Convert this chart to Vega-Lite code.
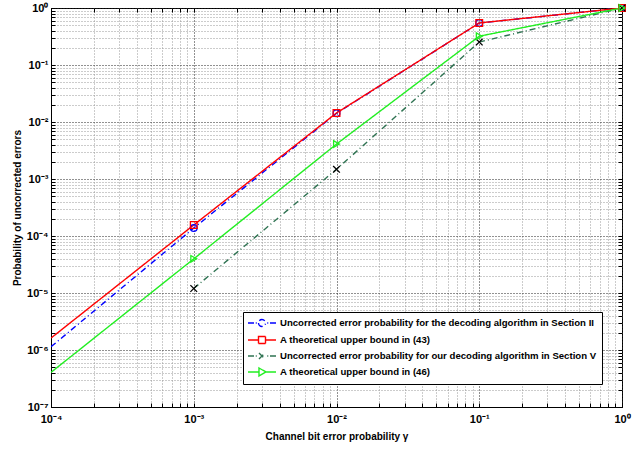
{
  "$schema": "https://vega.github.io/schema/vega-lite/v6.json",
  "width": 571,
  "height": 399,
  "autosize": {"type": "none"},
  "padding": {"left": 51, "top": 8, "right": 19, "bottom": 44},
  "background": "white",
  "config": {
    "view": {"stroke": "black", "strokeWidth": 1},
    "font": "Liberation Sans",
    "axis": {
      "labelFont": "Liberation Sans", "labelFontWeight": "bold", "labelFontSize": 11, "labelColor": "black",
      "titleFont": "Liberation Sans", "titleFontWeight": "bold", "titleFontSize": 10, "titleColor": "black",
      "labelFlush": false, "labelOverlap": false
    }
  },
  "data": {
    "values": [
      {"s": "Uncorrected error probability for the decoding algorithm in Section II", "x": 0.0001, "y": 1.14e-6},
      {"s": "Uncorrected error probability for the decoding algorithm in Section II", "x": 0.001, "y": 1.38e-4},
      {"s": "Uncorrected error probability for the decoding algorithm in Section II", "x": 0.01, "y": 1.42e-2},
      {"s": "Uncorrected error probability for the decoding algorithm in Section II", "x": 0.1, "y": 0.545},
      {"s": "Uncorrected error probability for the decoding algorithm in Section II", "x": 1, "y": 1},
      {"s": "A theoretical upper bound in (43)", "x": 0.0001, "y": 1.62e-6},
      {"s": "A theoretical upper bound in (43)", "x": 0.001, "y": 1.56e-4},
      {"s": "A theoretical upper bound in (43)", "x": 0.01, "y": 1.44e-2},
      {"s": "A theoretical upper bound in (43)", "x": 0.1, "y": 0.546},
      {"s": "A theoretical upper bound in (43)", "x": 1, "y": 1},
      {"s": "Uncorrected error probability for our decoding algorithm in Section V", "x": 0.001, "y": 1.2e-5},
      {"s": "Uncorrected error probability for our decoding algorithm in Section V", "x": 0.01, "y": 1.48e-3},
      {"s": "Uncorrected error probability for our decoding algorithm in Section V", "x": 0.1, "y": 0.253},
      {"s": "Uncorrected error probability for our decoding algorithm in Section V", "x": 1, "y": 1},
      {"s": "A theoretical upper bound in (46)", "x": 0.0001, "y": 4.05e-7},
      {"s": "A theoretical upper bound in (46)", "x": 0.001, "y": 3.97e-5},
      {"s": "A theoretical upper bound in (46)", "x": 0.01, "y": 4.1e-3},
      {"s": "A theoretical upper bound in (46)", "x": 0.1, "y": 0.32},
      {"s": "A theoretical upper bound in (46)", "x": 1, "y": 1}
    ]
  },
  "resolve": {
    "axis": {"x": "independent", "y": "independent"},
    "legend": {"color": "independent", "shape": "independent", "stroke": "independent", "size": "independent", "strokeDash": "independent"}
  },
  "layer": [
    {
      "mark": {"type": "line", "strokeWidth": 1.4, "clip": true},
      "encoding": {
        "x": {
          "field": "x", "type": "quantitative",
          "scale": {"type": "log", "domain": [0.0001, 1], "nice": false},
          "axis": {
            "title": "Channel bit error probability γ",
            "titlePadding": 7,
            "values": [0.0001,0.0002,0.0003,0.0004,0.0005,0.0006,0.0007,0.0008,0.0009,0.001,0.002,0.003,0.004,0.005,0.006,0.007,0.008,0.009,0.01,0.02,0.03,0.04,0.05,0.06,0.07,0.08,0.09,0.1,0.2,0.3,0.4,0.5,0.6,0.7,0.8,0.9,1],
            "labelExpr": "abs(log(datum.value)/LN10 - round(log(datum.value)/LN10)) < 0.001 ? ['10⁰','10⁻¹','10⁻²','10⁻³','10⁻⁴','10⁻⁵','10⁻⁶','10⁻⁷'][-round(log(datum.value)/LN10)] : ''",
            "tickSize": -4, "tickColor": "black", "labelPadding": 10,
            "domainColor": "black",
            "grid": true,
            "gridDash": [1, 2],
            "gridColor": {"condition": {"test": "abs(log(datum.value)/LN10 - round(log(datum.value)/LN10)) < 0.001", "value": "#222222"}, "value": "#999999"}
          }
        },
        "y": {
          "field": "y", "type": "quantitative",
          "scale": {"type": "log", "domain": [1e-7, 1], "nice": false},
          "axis": {
            "title": "Probability of uncorrected errors",
            "titlePadding": 4,
            "values": [1e-7,2e-7,3e-7,4e-7,5e-7,6e-7,7e-7,8e-7,9e-7,1e-6,2e-6,3e-6,4e-6,5e-6,6e-6,7e-6,8e-6,9e-6,1e-5,2e-5,3e-5,4e-5,5e-5,6e-5,7e-5,8e-5,9e-5,0.0001,0.0002,0.0003,0.0004,0.0005,0.0006,0.0007,0.0008,0.0009,0.001,0.002,0.003,0.004,0.005,0.006,0.007,0.008,0.009,0.01,0.02,0.03,0.04,0.05,0.06,0.07,0.08,0.09,0.1,0.2,0.3,0.4,0.5,0.6,0.7,0.8,0.9,1],
            "labelExpr": "abs(log(datum.value)/LN10 - round(log(datum.value)/LN10)) < 0.001 ? ['10⁰','10⁻¹','10⁻²','10⁻³','10⁻⁴','10⁻⁵','10⁻⁶','10⁻⁷'][-round(log(datum.value)/LN10)] : ''",
            "tickSize": -4, "tickColor": "black", "labelPadding": 7,
            "domainColor": "black",
            "grid": true,
            "gridDash": [1, 2],
            "gridColor": {"condition": {"test": "abs(log(datum.value)/LN10 - round(log(datum.value)/LN10)) < 0.001", "value": "#222222"}, "value": "#999999"}
          }
        },
        "color": {
          "field": "s", "type": "nominal",
          "scale": {
            "domain": ["Uncorrected error probability for the decoding algorithm in Section II", "A theoretical upper bound in (43)", "Uncorrected error probability for our decoding algorithm in Section V", "A theoretical upper bound in (46)"],
            "range": ["#0000ff", "#ff0000", "#2f7352", "#22ee22"]
          },
          "legend": {
            "title": null,
            "orient": "none",
            "legendX": 192,
            "legendY": 304,
            "padding": 5,
            "strokeColor": "black",
            "fillColor": "white",
            "cornerRadius": 0,
            "symbolSize": 100,
            "symbolOffset": 8,
            "labelOffset": 12,
            "rowPadding": 3,
            "symbolStrokeWidth": 1.4,
            "symbolFillColor": "transparent",
            "labelFont": "Liberation Sans",
            "labelFontWeight": "bold",
            "labelFontSize": 9.6,
            "labelColor": "black",
            "labelLimit": 500,
            "labelExpr": "datum.label + '\u00a0\u00a0\u00a0\u00a0\u00a0'",
            "encode": {
              "symbols": {
                "update": {
                  "shape": {"signal": "['M-2.8,0L-1.6,0M-1.25,0L-1.05,0M-0.7,0A0.7,0.7 0 1,0 0.7,0A0.7,0.7 0 1,0 -0.7,0M1.05,0L1.25,0M1.6,0L2.8,0','M-2.8,0L-0.7,0M0.7,0L2.8,0M-0.7,-0.7L0.7,-0.7L0.7,0.7L-0.7,0.7Z','M-2.8,0L-1.6,0M-1.25,0L-1.05,0M-0.6,-0.6L0.6,0.6M-0.6,0.6L0.6,-0.6M1.05,0L1.25,0M1.6,0L2.8,0','M-2.8,0L-0.6,0M0.8,0L2.8,0M-0.6,-0.8L0.8,0L-0.6,0.8Z'][datum.index]"},
                  "fill": {"value": "transparent"},
                  "strokeDash": {"value": [1, 0]},
                  "size": {"value": 100}
                }
              }
            }
          }
        },
        "strokeDash": {
          "field": "s", "type": "nominal",
          "scale": {
            "domain": ["Uncorrected error probability for the decoding algorithm in Section II", "A theoretical upper bound in (43)", "Uncorrected error probability for our decoding algorithm in Section V", "A theoretical upper bound in (46)"],
            "range": [[6, 3, 1, 3], [1, 0], [6, 3, 1, 3], [1, 0]]
          },
          "legend": null
        }
      }
    },
    {
      "transform": [{"filter": "datum.x >= 0.001"}],
      "mark": {"type": "point", "filled": false, "strokeWidth": 1.3, "opacity": 1},
      "encoding": {
        "x": {"field": "x", "type": "quantitative", "axis": null},
        "y": {"field": "y", "type": "quantitative", "axis": null},
        "shape": {
          "field": "s", "type": "nominal",
          "scale": {
            "domain": ["Uncorrected error probability for the decoding algorithm in Section II", "A theoretical upper bound in (43)", "Uncorrected error probability for our decoding algorithm in Section V", "A theoretical upper bound in (46)"],
            "range": ["circle", "square", "M-1,-1L1,1M-1,1L1,-1", "triangle-right"]
          },
          "legend": null
        },
        "stroke": {
          "field": "s", "type": "nominal",
          "scale": {
            "domain": ["Uncorrected error probability for the decoding algorithm in Section II", "A theoretical upper bound in (43)", "Uncorrected error probability for our decoding algorithm in Section V", "A theoretical upper bound in (46)"],
            "range": ["#0000ff", "#ff0000", "#000000", "#22ee22"]
          },
          "legend": null
        },
        "size": {
          "field": "s", "type": "nominal",
          "scale": {
            "domain": ["Uncorrected error probability for the decoding algorithm in Section II", "A theoretical upper bound in (43)", "Uncorrected error probability for our decoding algorithm in Section V", "A theoretical upper bound in (46)"],
            "range": [45, 45, 30, 70]
          },
          "legend": null
        }
      }
    },
    {
      "mark": {"type": "point", "opacity": 0},
      "encoding": {
        "x": {
          "field": "x", "type": "quantitative",
          "axis": {
            "orient": "top", "labels": false, "grid": false, "domain": false, "title": null,
            "tickSize": -4, "tickColor": "black",
            "values": [0.0001,0.0002,0.0003,0.0004,0.0005,0.0006,0.0007,0.0008,0.0009,0.001,0.002,0.003,0.004,0.005,0.006,0.007,0.008,0.009,0.01,0.02,0.03,0.04,0.05,0.06,0.07,0.08,0.09,0.1,0.2,0.3,0.4,0.5,0.6,0.7,0.8,0.9,1]
          }
        },
        "y": {
          "field": "y", "type": "quantitative",
          "axis": {
            "orient": "right", "labels": false, "grid": false, "domain": false, "title": null,
            "tickSize": -4, "tickColor": "black",
            "values": [1e-7,2e-7,3e-7,4e-7,5e-7,6e-7,7e-7,8e-7,9e-7,1e-6,2e-6,3e-6,4e-6,5e-6,6e-6,7e-6,8e-6,9e-6,1e-5,2e-5,3e-5,4e-5,5e-5,6e-5,7e-5,8e-5,9e-5,0.0001,0.0002,0.0003,0.0004,0.0005,0.0006,0.0007,0.0008,0.0009,0.001,0.002,0.003,0.004,0.005,0.006,0.007,0.008,0.009,0.01,0.02,0.03,0.04,0.05,0.06,0.07,0.08,0.09,0.1,0.2,0.3,0.4,0.5,0.6,0.7,0.8,0.9,1]
          }
        }
      }
    }
  ]
}
